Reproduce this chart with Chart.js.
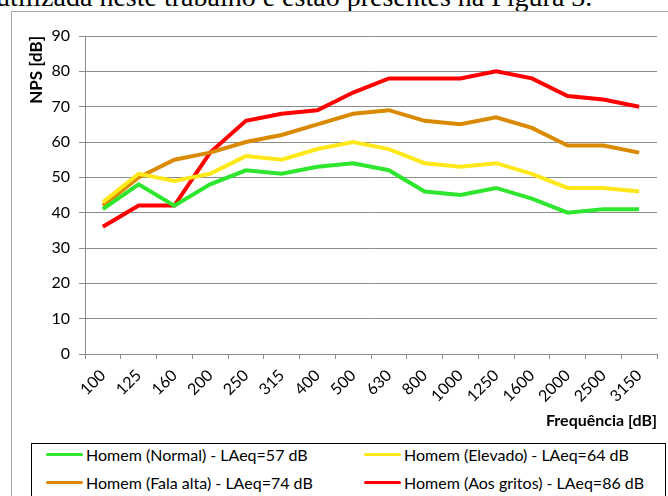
<!DOCTYPE html>
<html>
<head>
<meta charset="utf-8">
<script src="https://cdn.jsdelivr.net/npm/chart.js@4"></script>
<style>
  html, body { margin: 0; padding: 0; background: #fff; }
  body { width: 668px; height: 496px; position: relative; overflow: hidden; }
  #texto { position: absolute; left: -4px; top: -19px; font-family: "Liberation Serif", serif; font-size: 28px; white-space: nowrap; color: #000; }
  #moldura { position: absolute; left: 11px; top: 11px; width: 700px; height: 600px; border: 1px solid #a6a6a6; }
  #grafico { position: absolute; left: 0; top: 0; }
  #legenda { position: absolute; left: 31px; top: 443px; width: 633px; height: 80px; border: 1px solid #000; background: #fff;
    font-family: Lato, sans-serif; font-size: 16px; color: #000; }
  .item { position: absolute; display: flex; align-items: center; white-space: nowrap; height: 20px; }
  .amostra { width: 37px; height: 3px; margin-right: 3px; border-radius: 2px; }
</style>
</head>
<body>
<div id="texto">utilizada neste trabalho e estão presentes na Figura 3.</div>
<div id="moldura"></div>
<canvas id="grafico" width="668" height="496"></canvas>
<div id="legenda"></div>
<script>
// --- Dados ---
const frequencias = ["100", "125", "160", "200", "250", "315", "400", "500", "630", "800", "1000", "1250", "1600", "2000", "2500", "3150"];
const normal = [41, 48, 42, 48, 52, 51, 53, 54, 52, 46, 45, 47, 44, 40, 41, 41];
const elevado = [43, 51, 49, 51, 56, 55, 58, 60, 58, 54, 53, 54, 51, 47, 47, 46];
const falaAlta = [42, 50, 55, 57, 60, 62, 65, 68, 69, 66, 65, 67, 64, 59, 59, 57];
const gritos = [36, 42, 42, 57, 66, 68, 69, 74, 78, 78, 78, 80, 78, 73, 72, 70];
const nomes = ["Homem (Normal) - LAeq=57 dB", "Homem (Elevado) - LAeq=64 dB", "Homem (Fala alta) - LAeq=74 dB", "Homem (Aos gritos) - LAeq=86 dB"];
const cores = ["#2ee62e", "#ffe81a", "#d98a00", "#ff0000"];

const series = [normal, elevado, falaAlta, gritos];
const fonte = "Lato";

const ctx = document.getElementById("grafico").getContext("2d");

const grafico = new Chart(ctx, {
  type: "line",
  data: {
    labels: frequencias,
    datasets: series.map((valores, i) => ({
      label: nomes[i],
      data: valores,
      borderColor: cores[i],
      backgroundColor: cores[i],
      borderWidth: 4,
      pointRadius: 0,
      tension: 0,
    })),
  },
  options: {
    responsive: false,
    animation: false,
    layout: { padding: { left: 24, top: 36, right: 11, bottom: 66 } },
    plugins: { legend: { display: false }, tooltip: { enabled: false } },
    scales: {
      x: {
        offset: true,
        afterFit: (s) => { s.height = 76; },
        grid: { offset: true, drawOnChartArea: false, tickLength: 5, color: "#8c8c8c" },
        border: { color: "#8c8c8c" },
        ticks: { minRotation: 45, maxRotation: 45, color: "#000", font: { family: fonte, size: 16 }, padding: 7 },
        title: { display: true, text: "Frequência [dB]", align: "end", color: "#000",
          font: { family: fonte, size: 16, weight: "bold" }, padding: { top: 0, bottom: 0 } },
      },
      y: {
        min: 0,
        max: 90,
        afterFit: (s) => { s.width = 61; },
        grid: { tickLength: 6, color: "#8c8c8c" },
        border: { color: "#8c8c8c" },
        ticks: { stepSize: 10, color: "#000", font: { family: fonte, size: 16 }, padding: 9 },
        title: { display: true, text: "NPS [dB]", align: "end", color: "#000",
          font: { family: fonte, size: 17, weight: "bold" }, padding: { top: 2, bottom: 0 } },
      },
    },
  },
});

// --- Legenda ---
const legenda = document.getElementById("legenda");
const posicoes = [[14, 10], [332, 10], [14, 38], [332, 38]];
nomes.forEach((nome, i) => {
  const el = document.createElement("div");
  el.className = "item";
  el.style.left = posicoes[i][0] + "px";
  el.style.top = (posicoes[i][1] - 10) + "px";
  el.innerHTML = `<span class="amostra" style="background:${cores[i]}"></span>${nome}`;
  legenda.appendChild(el);
});
</script>
</body>
</html>
